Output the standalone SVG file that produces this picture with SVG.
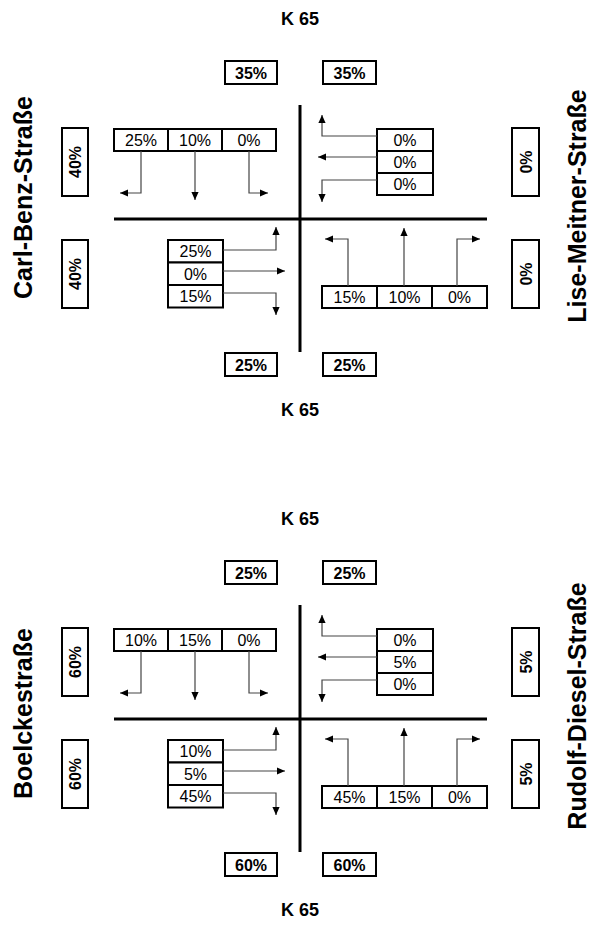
<svg xmlns="http://www.w3.org/2000/svg" width="590" height="932" viewBox="0 0 590 932">
<style>
  .bx{fill:#fff;stroke:#000;stroke-width:2}
  .t{font-family:"Liberation Sans",Arial,sans-serif;font-size:16px;text-anchor:middle;fill:#000}
  .tb{font-family:"Liberation Sans",Arial,sans-serif;font-size:16px;font-weight:bold;text-anchor:middle;fill:#000}
  .k{font-family:"Liberation Sans",Arial,sans-serif;font-size:18px;font-weight:bold;text-anchor:middle;fill:#000}
  .st{font-family:"Liberation Sans",Arial,sans-serif;font-size:25px;font-weight:bold;fill:#000}
  .axis{stroke:#000;stroke-width:3;fill:none}
  .ar{stroke:#444;stroke-width:1.2;fill:none;marker-end:url(#ah)}
</style>
<defs>
  <marker id="ah" viewBox="0 0 10 10" refX="10" refY="5" markerWidth="9" markerHeight="8" markerUnits="userSpaceOnUse" orient="auto">
    <path d="M0,0.5 L10,5 L0,9.5 z" fill="#000"/>
  </marker>
</defs>

<!-- Diagram 1 -->
<g id="diagram1">
  <g id="d1-k65-top"><text class="k" x="300" y="25">K 65</text></g>
  <g id="d1-k65-bottom"><text class="k" x="300" y="416">K 65</text></g>
  <g id="d1-street-left"><text class="st" transform="translate(32,299) rotate(-90)">Carl-Benz-Straße</text></g>
  <g id="d1-street-right"><text class="st" text-anchor="middle" transform="translate(586,206) rotate(-90)">Lise-Meitner-Straße</text></g>

  <g id="d1-axes">
    <line class="axis" x1="300" y1="105" x2="300" y2="352"/>
    <line class="axis" x1="114" y1="219" x2="487" y2="219"/>
  </g>

  <g id="d1-top-left-total"><rect class="bx" x="225" y="61" width="52" height="23"/><text class="tb" x="251" y="78.5">35%</text></g>
  <g id="d1-top-right-total"><rect class="bx" x="323" y="61" width="53" height="23"/><text class="tb" x="349.5" y="78.5">35%</text></g>
  <g id="d1-bottom-left-total"><rect class="bx" x="225" y="353" width="52" height="23"/><text class="tb" x="251" y="370.5">25%</text></g>
  <g id="d1-bottom-right-total"><rect class="bx" x="323" y="353" width="53" height="23"/><text class="tb" x="349.5" y="370.5">25%</text></g>

  <g id="d1-left-upper-total"><rect class="bx" x="62" y="128" width="26" height="68"/><text class="tb" transform="translate(81,162) rotate(-90)">40%</text></g>
  <g id="d1-left-lower-total"><rect class="bx" x="62" y="240" width="26" height="68"/><text class="tb" transform="translate(81,274) rotate(-90)">40%</text></g>
  <g id="d1-right-upper-total"><rect class="bx" x="512" y="128" width="27" height="68"/><text class="tb" transform="translate(531.5,162) rotate(-90)">0%</text></g>
  <g id="d1-right-lower-total"><rect class="bx" x="512" y="240" width="27" height="68"/><text class="tb" transform="translate(531.5,274) rotate(-90)">0%</text></g>

  <g id="d1-tl">
    <rect class="bx" x="114" y="129" width="54" height="22"/><text class="t" x="141" y="146">25%</text>
    <rect class="bx" x="168" y="129" width="54" height="22"/><text class="t" x="195" y="146">10%</text>
    <rect class="bx" x="222" y="129" width="54" height="22"/><text class="t" x="249" y="146">0%</text>
  </g>
  <g id="d1-tr">
    <rect class="bx" x="377" y="129" width="56" height="22"/><text class="t" x="405" y="146">0%</text>
    <rect class="bx" x="377" y="151" width="56" height="22"/><text class="t" x="405" y="168">0%</text>
    <rect class="bx" x="377" y="173" width="56" height="22"/><text class="t" x="405" y="190">0%</text>
  </g>
  <g id="d1-bl">
    <rect class="bx" x="168" y="240" width="55" height="22.5"/><text class="t" x="195.5" y="257">25%</text>
    <rect class="bx" x="168" y="262.5" width="55" height="22.5"/><text class="t" x="195.5" y="279.5">0%</text>
    <rect class="bx" x="168" y="285" width="55" height="22.5"/><text class="t" x="195.5" y="302">15%</text>
  </g>
  <g id="d1-br">
    <rect class="bx" x="322" y="286" width="55" height="22"/><text class="t" x="349.5" y="303">15%</text>
    <rect class="bx" x="377" y="286" width="55" height="22"/><text class="t" x="404.5" y="303">10%</text>
    <rect class="bx" x="432" y="286" width="55" height="22"/><text class="t" x="459.5" y="303">0%</text>
  </g>

  <g id="d1-connectors">
    <path class="ar" d="M141,151 V193 H120"/>
    <path class="ar" d="M195,151 V200"/>
    <path class="ar" d="M249,151 V193 H268"/>
    <path class="ar" d="M377,136 H322 V115"/>
    <path class="ar" d="M377,157 H318"/>
    <path class="ar" d="M377,180 H322 V202"/>
    <path class="ar" d="M223,250 H276 V227"/>
    <path class="ar" d="M223,271 H285"/>
    <path class="ar" d="M223,293 H276 V315"/>
    <path class="ar" d="M348,286 V239 H325"/>
    <path class="ar" d="M404,286 V228"/>
    <path class="ar" d="M457,286 V239 H480"/>
  </g>
</g>

<!-- Diagram 2 -->
<g id="diagram2" transform="translate(0,500)">
  <g id="d2-k65-top"><text class="k" x="300" y="25">K 65</text></g>
  <g id="d2-k65-bottom"><text class="k" x="300" y="416">K 65</text></g>
  <g id="d2-street-left"><text class="st" transform="translate(32,299) rotate(-90)">Boelckestraße</text></g>
  <g id="d2-street-right"><text class="st" text-anchor="middle" transform="translate(586,206) rotate(-90)">Rudolf-Diesel-Straße</text></g>

  <g id="d2-axes">
    <line class="axis" x1="300" y1="105" x2="300" y2="352"/>
    <line class="axis" x1="114" y1="219" x2="487" y2="219"/>
  </g>

  <g id="d2-top-left-total"><rect class="bx" x="225" y="61" width="52" height="23"/><text class="tb" x="251" y="78.5">25%</text></g>
  <g id="d2-top-right-total"><rect class="bx" x="323" y="61" width="53" height="23"/><text class="tb" x="349.5" y="78.5">25%</text></g>
  <g id="d2-bottom-left-total"><rect class="bx" x="225" y="353" width="52" height="23"/><text class="tb" x="251" y="370.5">60%</text></g>
  <g id="d2-bottom-right-total"><rect class="bx" x="323" y="353" width="53" height="23"/><text class="tb" x="349.5" y="370.5">60%</text></g>

  <g id="d2-left-upper-total"><rect class="bx" x="62" y="128" width="26" height="68"/><text class="tb" transform="translate(81,162) rotate(-90)">60%</text></g>
  <g id="d2-left-lower-total"><rect class="bx" x="62" y="240" width="26" height="68"/><text class="tb" transform="translate(81,274) rotate(-90)">60%</text></g>
  <g id="d2-right-upper-total"><rect class="bx" x="512" y="128" width="27" height="68"/><text class="tb" transform="translate(531.5,162) rotate(-90)">5%</text></g>
  <g id="d2-right-lower-total"><rect class="bx" x="512" y="240" width="27" height="68"/><text class="tb" transform="translate(531.5,274) rotate(-90)">5%</text></g>

  <g id="d2-tl">
    <rect class="bx" x="114" y="129" width="54" height="22"/><text class="t" x="141" y="146">10%</text>
    <rect class="bx" x="168" y="129" width="54" height="22"/><text class="t" x="195" y="146">15%</text>
    <rect class="bx" x="222" y="129" width="54" height="22"/><text class="t" x="249" y="146">0%</text>
  </g>
  <g id="d2-tr">
    <rect class="bx" x="377" y="129" width="56" height="22"/><text class="t" x="405" y="146">0%</text>
    <rect class="bx" x="377" y="151" width="56" height="22"/><text class="t" x="405" y="168">5%</text>
    <rect class="bx" x="377" y="173" width="56" height="22"/><text class="t" x="405" y="190">0%</text>
  </g>
  <g id="d2-bl">
    <rect class="bx" x="168" y="240" width="55" height="22.5"/><text class="t" x="195.5" y="257">10%</text>
    <rect class="bx" x="168" y="262.5" width="55" height="22.5"/><text class="t" x="195.5" y="279.5">5%</text>
    <rect class="bx" x="168" y="285" width="55" height="22.5"/><text class="t" x="195.5" y="302">45%</text>
  </g>
  <g id="d2-br">
    <rect class="bx" x="322" y="286" width="55" height="22"/><text class="t" x="349.5" y="303">45%</text>
    <rect class="bx" x="377" y="286" width="55" height="22"/><text class="t" x="404.5" y="303">15%</text>
    <rect class="bx" x="432" y="286" width="55" height="22"/><text class="t" x="459.5" y="303">0%</text>
  </g>

  <g id="d2-connectors">
    <path class="ar" d="M141,151 V193 H120"/>
    <path class="ar" d="M195,151 V200"/>
    <path class="ar" d="M249,151 V193 H268"/>
    <path class="ar" d="M377,136 H322 V115"/>
    <path class="ar" d="M377,157 H318"/>
    <path class="ar" d="M377,180 H322 V202"/>
    <path class="ar" d="M223,250 H276 V227"/>
    <path class="ar" d="M223,271 H285"/>
    <path class="ar" d="M223,293 H276 V315"/>
    <path class="ar" d="M348,286 V239 H325"/>
    <path class="ar" d="M404,286 V228"/>
    <path class="ar" d="M457,286 V239 H480"/>
  </g>
</g>
</svg>
